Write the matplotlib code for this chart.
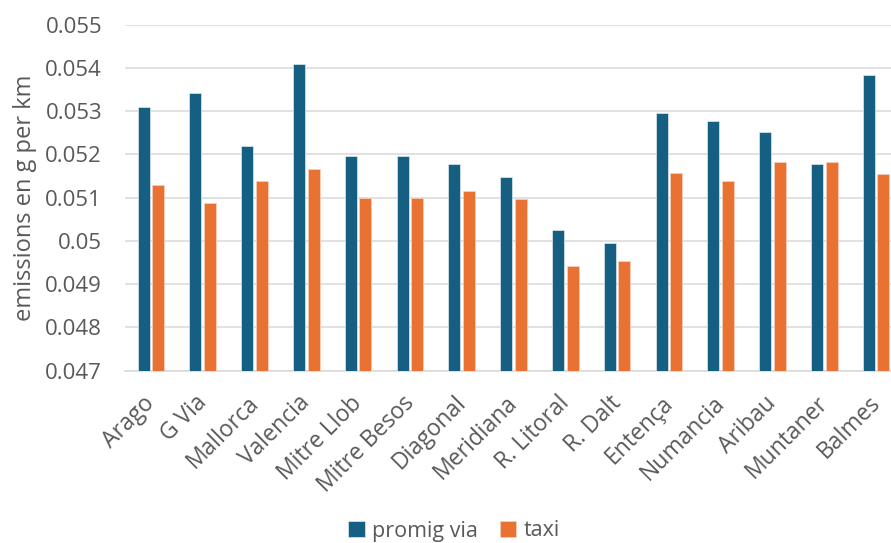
import matplotlib
matplotlib.use("Agg")
import matplotlib.pyplot as plt
import matplotlib.transforms as mtransforms
import numpy as np

streets = ["Arago", "G Via", "Mallorca", "Valencia", "Mitre Llob", "Mitre Besos",
           "Diagonal", "Meridiana", "R. Litoral", "R. Dalt", "Entença", "Numancia",
           "Aribau", "Muntaner", "Balmes"]
promig_via = [0.05309, 0.05342, 0.05220, 0.05410, 0.05197, 0.05197, 0.05178,
              0.05149, 0.05025, 0.04995, 0.05296, 0.05277, 0.05251, 0.05178, 0.05384]
taxi = [0.05129, 0.05088, 0.05138, 0.05166, 0.05100, 0.05100, 0.05116,
        0.05096, 0.04941, 0.04954, 0.05157, 0.05138, 0.05183, 0.05183, 0.05155]
yticks = [0.047, 0.048, 0.049, 0.05, 0.051, 0.052, 0.053, 0.054, 0.055]
ytick_labels = ["0.047", "0.048", "0.049", "0.05", "0.051", "0.052", "0.053", "0.054", "0.055"]

plt.rcParams["font.family"] = ["Open Sans", "DejaVu Sans"]
text_color = "#595959"
blue = "#156082"
orange = "#E97132"

fig = plt.figure(figsize=(8.91, 5.43), dpi=100)
ax = fig.add_axes([125 / 891, (543 - 370.7) / 543, 777 / 891, 346 / 543])

x = np.arange(len(streets))
w = 0.23
off = 0.142
ax.bar(x - off, promig_via, width=w, bottom=0, color=blue, edgecolor="#dfe9ef",
       linewidth=0.5, label="promig via", zorder=3)
ax.bar(x + off, taxi, width=w, bottom=0, color=orange, edgecolor="#f6d2bf",
       linewidth=0.5, label="taxi", zorder=3)

ax.set_xlim(-0.5, len(streets) - 0.5)
ax.set_ylim(0.047, 0.055)
ax.set_yticks(yticks)
ax.set_yticklabels(ytick_labels, fontsize=16)
ax.set_xticks(x)
ax.set_xticklabels(streets, rotation=45, ha="right", va="top", rotation_mode="anchor",
                   fontsize=16.5)

ax.grid(axis="y", color="#D9D9D9", linewidth=1.1, zorder=0)
for s in ["top", "right", "left"]:
    ax.spines[s].set_visible(False)
ax.spines["bottom"].set_color("#D9D9D9")
ax.spines["bottom"].set_linewidth(1.1)
ax.tick_params(axis="both", length=0, colors=text_color)
ax.tick_params(axis="y", pad=16.5)
ax.tick_params(axis="x", pad=14)

# nudge the rotated category labels slightly left
shift = mtransforms.ScaledTranslation(-8 / 100, -1 / 100, fig.dpi_scale_trans)
for lbl in ax.get_xticklabels():
    lbl.set_transform(lbl.get_transform() + shift)

ax.set_ylabel("emissions en g per km", color=text_color, fontsize=17, labelpad=6)

fig.legend(loc="center", bbox_to_anchor=(454 / 891, 1 - 531 / 543), ncol=2,
           frameon=False, fontsize=15.5, labelcolor=text_color, handlelength=0.75,
           handleheight=0.75, handletextpad=0.35, columnspacing=1.0)

fig.savefig("out.png", dpi=100)
